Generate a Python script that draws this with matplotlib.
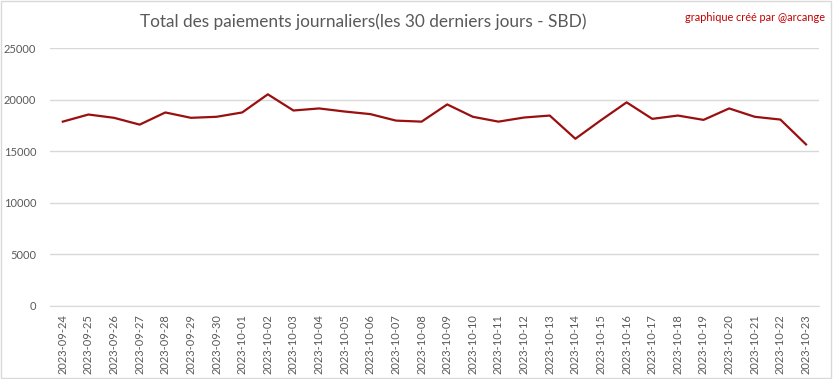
import matplotlib.pyplot as plt
from matplotlib.patches import Rectangle

# Données : total des paiements journaliers (SBD)
dates = ['2023-09-24', '2023-09-25', '2023-09-26', '2023-09-27', '2023-09-28',
         '2023-09-29', '2023-09-30', '2023-10-01', '2023-10-02', '2023-10-03',
         '2023-10-04', '2023-10-05', '2023-10-06', '2023-10-07', '2023-10-08',
         '2023-10-09', '2023-10-10', '2023-10-11', '2023-10-12', '2023-10-13',
         '2023-10-14', '2023-10-15', '2023-10-16', '2023-10-17', '2023-10-18',
         '2023-10-19', '2023-10-20', '2023-10-21', '2023-10-22', '2023-10-23']
paiements = [17870, 18560, 18240, 17580, 18760, 18240, 18340, 18760, 20520, 18950,
             19150, 18850, 18600, 17970, 17870, 19540, 18340, 17870, 18270, 18460,
             16210, 18010, 19740, 18140, 18460, 18040, 19150, 18340, 18070, 15660]
yticks = [0, 5000, 10000, 15000, 20000, 25000]

plt.rcParams['font.family'] = ['Lato', 'DejaVu Sans']

fig = plt.figure(figsize=(8.33, 3.79), dpi=100)
ax = fig.add_axes([0.060, 0.193, 0.923, 0.680])

x = range(len(dates))
ax.plot(x, paiements, color='#9a0f0f', linewidth=1.6)

ax.set_xlim(-0.5, len(dates) - 0.5)
ax.set_ylim(0, 25000)
ax.set_yticks(yticks)
ax.set_yticklabels([str(v) for v in yticks])
ax.set_xticks(list(x))
ax.set_xticklabels(dates, rotation=90)
ax.tick_params(axis='both', length=0, labelsize=8, colors='#595959')
ax.tick_params(axis='x', pad=6)
ax.tick_params(axis='y', pad=10)
ax.grid(axis='y', color='#d9d9d9', linewidth=1)
ax.set_axisbelow(True)
for s in ['top', 'right', 'left']:
    ax.spines[s].set_visible(False)
ax.spines['bottom'].set_color('#d9d9d9')

fig.text(0.436, 0.942, 'Total des paiements journaliers(les 30 derniers jours - SBD)',
         ha='center', va='center', fontsize=12.4, color='#595959')
fig.text(0.99, 0.955, 'graphique créé par @arcange', ha='right', va='center',
         fontsize=7.8, color='#c00000')

# bordure du graphique
fig.patches.append(Rectangle((0.001, 0.002), 0.997, 0.995, transform=fig.transFigure,
                             fill=False, edgecolor='#d9d9d9', linewidth=1))

plt.savefig('out.png', dpi=100)
